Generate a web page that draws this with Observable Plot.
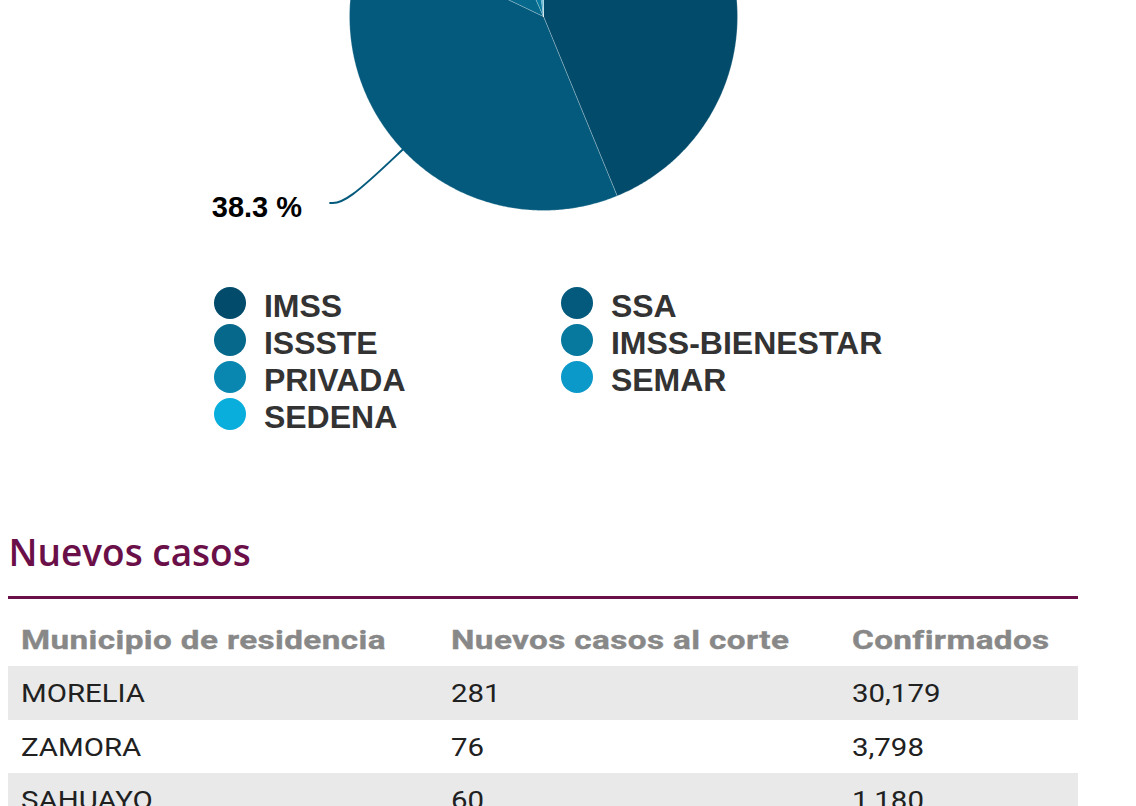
<!DOCTYPE html>
<html>
<head>
<meta charset="utf-8">
<script src="https://cdn.jsdelivr.net/npm/d3@7"></script>
<script src="https://cdn.jsdelivr.net/npm/@observablehq/plot@0.6"></script>
<style>
html,body{margin:0;padding:0;background:#fff;}
body{width:1136px;height:806px;overflow:hidden;position:relative;}
#pie{position:absolute;left:0;top:-220px;width:1136px;height:470px;}
#legend{position:absolute;left:213.5px;top:284.5px;display:grid;grid-template-columns:347px 347px;grid-auto-rows:37px;
  font-family:"Liberation Sans",Arial,sans-serif;font-weight:bold;font-size:32px;color:#333;}
#legend .item{display:flex;align-items:center;height:37px;}
#legend .sw{width:32.4px;height:32.4px;border-radius:50%;margin-right:18px;flex:none;}
#legend .lbl{position:relative;top:3px;line-height:37px;white-space:nowrap;}
#title{position:absolute;left:8.5px;top:534px;font-family:"Open Sans",sans-serif;font-weight:600;font-size:37px;line-height:36px;color:#6b0f49;white-space:nowrap;}
#rule{position:absolute;left:8px;top:596px;width:1069.5px;height:3px;background:#6b0f49;}
#tabla{position:absolute;left:8px;top:615px;width:1069.5px;font-family:Roboto,sans-serif;}
#tabla .hdr,#tabla .row{display:grid;grid-template-columns:430px 401px 1fr;}
#tabla .hdr div,#tabla .row div{padding-left:12.5px;white-space:nowrap;overflow:visible;}
#tabla span{display:inline-block;transform-origin:0 50%;}
#tabla .hdr{height:51px;line-height:51px;font-size:26px;font-weight:bold;color:#888;}
#tabla .hdr span{transform:scaleX(1.28);letter-spacing:0.3px;-webkit-text-stroke:0.35px #888;}
#tabla .row{height:53.5px;line-height:53.5px;font-size:26.5px;color:#212121;}
#tabla .row span{transform:scaleX(1.11);}
#tabla .row.alt{background:#e9e9e9;}
</style>
</head>
<body>
<div id="pie"></div>
<div id="legend"></div>
<div id="title">Nuevos casos</div>
<div id="rule"></div>
<div id="tabla"></div>
<script>
// ---- Data ----
const institutions = ["IMSS", "SSA", "ISSSTE", "IMSS-BIENESTAR", "PRIVADA", "SEMAR", "SEDENA"];
const shares = [43.8, 38.3, 11.2, 4.6, 1.4, 0.4, 0.3];
const sliceColors = ["#024b6b", "#045a7c", "#06688b", "#07789e", "#0987b1", "#0a99c8", "#0aaedc"];

const columnas = ["Municipio de residencia", "Nuevos casos al corte", "Confirmados"];
const municipios = ["MORELIA", "ZAMORA", "SAHUAYO"];
const nuevosCasos = [281, 76, 60];
const confirmados = [30179, 3798, 1180];

// ---- Pie geometry (via d3.pie) ----
const R = 194;
const CENTER_PAGE_Y = 16; // where the pie centre falls in the visible crop
const slices = d3.pie().sort(null).value(d => d.share)(
  institutions.map((name, i) => ({name, share: shares[i]}))
);
const polyPts = [];
const leaders = [];
const labels = [];
for (const s of slices) {
  const name = s.data.name;
  const n = Math.max(2, Math.ceil((s.endAngle - s.startAngle) / (Math.PI / 360)));
  polyPts.push({name, x: 0, y: 0});
  for (let k = 0; k <= n; k++) {
    const a = s.startAngle + (s.endAngle - s.startAngle) * k / n;
    polyPts.push({name, x: R * Math.sin(a), y: R * Math.cos(a)});
  }
  polyPts.push({name, x: 0, y: 0});
  const m = (s.startAngle + s.endAngle) / 2;
  const sx = Math.sin(m), cy = Math.cos(m), side = sx < 0 ? -1 : 1;
  const elbow = {x: 1.40 * R * sx, y: 1.40 * R * cy};
  const end = {x: elbow.x + side * 16, y: elbow.y};
  // only labels that fall inside the visible crop of the page are drawn
  if (CENTER_PAGE_Y - end.y - 20 > 0) {
    leaders.push({name, x: R * sx, y: R * cy}, {name, ...elbow}, {name, ...end});
    labels.push({name, side, x: end.x + side * 28, y: end.y, text: s.data.share.toFixed(1) + " %"});
  }
}

const labelStyle = {x: "x", y: "y", text: "text", fontSize: 29, fontWeight: "bold",
  fontFamily: "'Liberation Sans', Arial, sans-serif", fill: "#000", dy: 5};

const pie = Plot.plot({
  width: 1136,
  height: 470,
  margin: 0,
  x: {domain: [-543, 593], axis: null},
  y: {domain: [-234, 236], axis: null},
  color: {domain: institutions, range: sliceColors},
  marks: [
    Plot.line(polyPts, {x: "x", y: "y", z: "name", fill: "name", stroke: "#ffffff", strokeOpacity: 0.4, strokeWidth: 0.6}),
    Plot.line(leaders, {x: "x", y: "y", z: "name", stroke: "name", strokeWidth: 2, curve: "basis"}),
    Plot.text(labels.filter(d => d.side < 0), {...labelStyle, textAnchor: "end"}),
    Plot.text(labels.filter(d => d.side > 0), {...labelStyle, textAnchor: "start"})
  ]
});
document.getElementById("pie").appendChild(pie);

// ---- Legend (HTML, below the chart) ----
const legend = d3.select("#legend");
institutions.forEach((name, i) => {
  const it = legend.append("div").attr("class", "item");
  it.append("span").attr("class", "sw").style("background", sliceColors[i]);
  it.append("span").attr("class", "lbl").text(name);
});

// ---- Table ----
const fmt = d3.format(",");
const tabla = d3.select("#tabla");
const hdr = tabla.append("div").attr("class", "hdr");
columnas.forEach(c => hdr.append("div").append("span").text(c));
municipios.forEach((m, i) => {
  const r = tabla.append("div").attr("class", "row" + (i % 2 === 0 ? " alt" : ""));
  r.append("div").append("span").text(m);
  r.append("div").append("span").text(fmt(nuevosCasos[i]));
  r.append("div").append("span").text(fmt(confirmados[i]));
});
</script>
</body>
</html>
